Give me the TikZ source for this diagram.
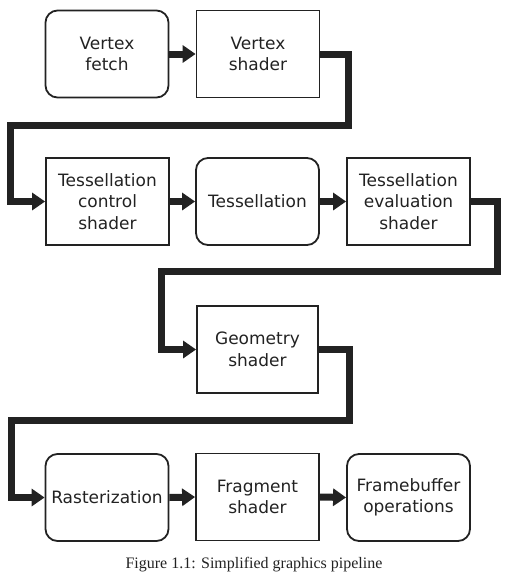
\documentclass[tikz,border=0pt]{standalone}
\usepackage{fontspec}
\setmainfont{Liberation Serif}
\newfontfamily\boxfont{DejaVu Sans}
\usetikzlibrary{arrows.meta}
\definecolor{ink}{HTML}{222222}
\tikzset{
  stage/.style={draw=ink, line width=1.8pt, minimum width=123pt, minimum height=87pt,
    inner sep=0pt, align=center, text=ink,
    font=\boxfont\fontsize{17pt}{21.5pt}\selectfont},
  roundstage/.style={stage, rounded corners=12pt},
  flow/.style={draw=ink, line width=7pt, line join=miter,
    -{Triangle[length=13pt,width=17pt]}}
}
\begin{document}
\begin{tikzpicture}[x=1pt,y=-1pt]
\useasboundingbox (0,0) rectangle (515,579);
\node[roundstage] (vf) at (107,54) {Vertex\\fetch};
\node[stage] (vs) at (258,54) {Vertex\\shader};
\node[stage] (tcs) at (107.5,201.5) {Tessellation\\control\\shader};
\node[roundstage] (tes) at (257.5,201.5) {Tessellation};
\node[stage] (tev) at (408.5,201.5) {Tessellation\\evaluation\\shader};
\node[stage, minimum width=121pt] (gs) at (257.5,349.5) {Geometry\\shader};
\node[roundstage] (ras) at (107,497.5) {Rasterization};
\node[stage] (fs) at (257.5,497) {Fragment\\shader};
\node[roundstage] (fb) at (408.5,497.5) {Framebuffer\\operations};
\node[font=\fontsize{16pt}{18pt}\selectfont, text=ink] (cap) at (254,565) {Figure 1.1: Simplified graphics pipeline};

\draw[flow] (vf.east) -- (vs.west);
\draw[flow] (tcs.east) -- (tes.west);
\draw[flow] (tes.east) -- (tev.west);
\draw[flow] (ras.east) -- (fs.west);
\draw[flow] (fs.east) -- (fb.west);

\draw[flow] (vs.east) -- (348.5,54) -- (348.5,125) -- (10.5,125) |- (tcs.west);
\draw[flow] (tev.east) -- (497.5,201.5) -- (497.5,271.5) -- (161.5,271.5) |- (gs.west);
\draw[flow] (gs.east) -- (349.5,349.5) -- (349.5,420) -- (11,420) |- (ras.west);
\end{tikzpicture}
\end{document}
